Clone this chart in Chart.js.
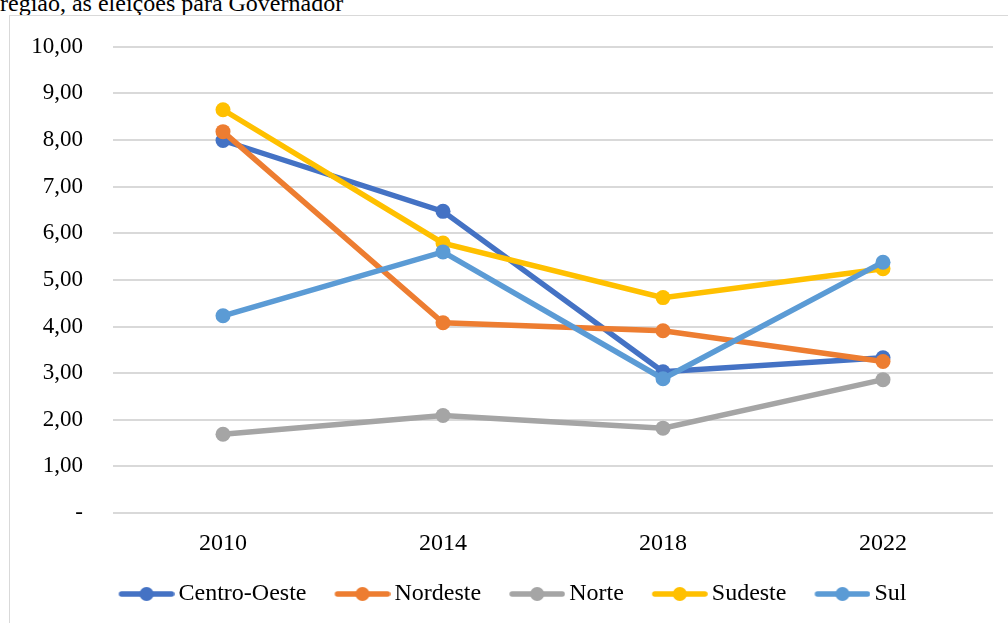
<!DOCTYPE html>
<html>
<head>
<meta charset="utf-8">
<script src="https://cdn.jsdelivr.net/npm/chart.js@4/dist/chart.umd.min.js"></script>
<style>
  body { margin: 0; background: #fff; width: 1008px; height: 623px; overflow: hidden; position: relative; }
  #title { position: absolute; left: 0; top: -9px; font-family: "Liberation Serif", serif; font-size: 24px; line-height: 24px; color: #000; white-space: nowrap; }
  #frame { position: absolute; left: 9px; top: 15px; width: 1100px; height: 700px; border-left: 1px solid #d9d9d9; border-top: 1px solid #d9d9d9; }
  #chart { position: absolute; left: 10px; top: 3px; }
</style>
</head>
<body>
<div id="title">região, as eleições para Governador</div>
<div id="frame"></div>
<canvas id="chart" width="998" height="620"></canvas>
<script>
const years = ['2010', '2014', '2018', '2022'];
const centroOeste = [7.99, 6.47, 3.03, 3.33];
const nordeste = [8.18, 4.08, 3.91, 3.25];
const norte = [1.69, 2.09, 1.82, 2.86];
const sudeste = [8.65, 5.79, 4.62, 5.24];
const sul = [4.23, 5.60, 2.88, 5.38];

const seriesNames = ['Centro-Oeste', 'Nordeste', 'Norte', 'Sudeste', 'Sul'];
const seriesValues = [centroOeste, nordeste, norte, sudeste, sul];
const seriesColors = ['#4472C4', '#ED7D31', '#A5A5A5', '#FFC000', '#5B9BD5'];

const FONT = '"Liberation Serif", "Times New Roman", serif';
const legendFont = 24;
const lineLen = 56;   // legend line length
const textGap = 4;    // gap between legend line and text
const boxW = lineLen + textGap - legendFont / 2;

// legend marker: a line with a dot, drawn so it starts at the item's left edge
function legendMarker(color) {
  const w = Math.round(2 * (lineLen - boxW / 2));
  const h = 16;
  const c = document.createElement('canvas');
  c.width = w;
  c.height = h;
  const ctx = c.getContext('2d');
  const x0 = w / 2 - boxW / 2;
  ctx.strokeStyle = color;
  ctx.lineWidth = 5.5;
  ctx.lineCap = 'round';
  ctx.beginPath();
  ctx.moveTo(x0 + 3, h / 2);
  ctx.lineTo(x0 + lineLen - 3, h / 2);
  ctx.stroke();
  ctx.fillStyle = color;
  ctx.beginPath();
  ctx.arc(x0 + lineLen / 2, h / 2, 7, 0, Math.PI * 2);
  ctx.fill();
  return c;
}

const datasets = seriesNames.map((name, i) => ({
  label: name,
  data: seriesValues[i],
  borderColor: seriesColors[i],
  backgroundColor: seriesColors[i],
  borderWidth: 5.5,
  pointRadius: 7.5,
  pointBorderWidth: 0,
  pointBackgroundColor: seriesColors[i],
  tension: 0,
  order: seriesNames.length - i
}));

new Chart(document.getElementById('chart').getContext('2d'), {
  type: 'line',
  data: { labels: years, datasets: datasets },
  options: {
    responsive: false,
    animation: false,
    layout: { padding: { left: 22, top: 15, right: 15, bottom: 7 } },
    scales: {
      x: {
        offset: true,
        grid: { display: false },
        border: { display: false },
        ticks: { color: '#000', font: { family: FONT, size: 24 }, padding: 8 },
        afterFit: s => { s.height = 53; }
      },
      y: {
        min: 0,
        max: 10,
        grid: { color: '#d9d9d9', lineWidth: 2, drawTicks: false },
        border: { display: false },
        ticks: {
          stepSize: 1,
          color: '#000',
          padding: 30,
          font: { family: FONT, size: 23 },
          callback: v => v === 0 ? '-' : v.toFixed(2).replace('.', ',')
        },
        afterFit: s => { s.width = 81; }
      }
    },
    plugins: {
      tooltip: { enabled: false },
      legend: {
        position: 'bottom',
        labels: {
          color: '#000',
          font: { family: FONT, size: legendFont },
          usePointStyle: true,
          pointStyleWidth: boxW,
          padding: 16,
          // en space after each name widens the gap to the next entry
          generateLabels: chart => chart.data.datasets.map((ds, i, all) => ({
            text: i < all.length - 1 ? ds.label + '\u2002' : ds.label,
            pointStyle: legendMarker(ds.borderColor),
            fillStyle: ds.borderColor,
            strokeStyle: ds.borderColor,
            lineWidth: 0,
            hidden: false,
            datasetIndex: i
          }))
        }
      }
    }
  }
});
</script>
</body>
</html>
